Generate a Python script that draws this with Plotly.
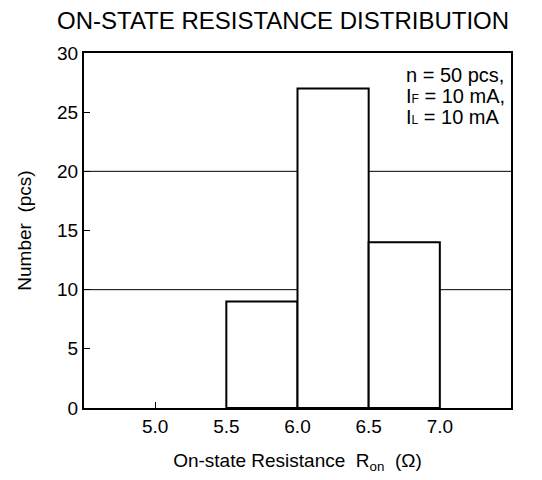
import plotly.graph_objects as go

bin_centers = [5.75, 6.25, 6.75]
counts = [9, 27, 14]
x_ticks = [5.0, 5.5, 6.0, 6.5, 7.0]
x_tick_labels = ["5.0", "5.5", "6.0", "6.5", "7.0"]
y_ticks = [0, 5, 10, 15, 20, 25, 30]
grid_levels = [10, 20]
small = '<span style="font-size:12px">{}</span>'
note_lines = ["n = 50 pcs,", "I" + small.format("F") + " = 10 mA,", "I" + small.format("L") + " = 10 mA"]

font = "Liberation Sans, Arial, sans-serif"

fig = go.Figure()
fig.add_trace(go.Bar(
    x=bin_centers, y=counts, width=0.5,
    marker=dict(color="white", line=dict(color="black", width=2)),
    showlegend=False,
))

for g in grid_levels:
    fig.add_shape(type="line", xref="paper", x0=0, x1=1, yref="y", y0=g, y1=g,
                  line=dict(color="black", width=1), layer="below")

note_y = [0.938, 0.879, 0.820]
annotations = [dict(text=t, xref="paper", yref="paper", x=0.749, y=yy,
                    xanchor="left", yanchor="middle", align="left", showarrow=False,
                    font=dict(size=20, family=font))
               for t, yy in zip(note_lines, note_y)]

fig.update_layout(
    width=534, height=472,
    margin=dict(l=76, r=31, t=45, b=72),
    paper_bgcolor="white", plot_bgcolor="white",
    font=dict(family=font, size=19, color="black"),
    title=dict(text="ON-STATE RESISTANCE DISTRIBUTION", x=0.0918, xanchor="left",
               y=0.974, yanchor="middle", font=dict(size=24, family=font)),
    xaxis=dict(range=[4.5, 7.5], tickvals=x_ticks, ticktext=x_tick_labels,
               ticks="inside", ticklen=6, tickcolor="black", tickwidth=1,
               tickfont=dict(size=19),
               showline=True, linecolor="black", linewidth=2, mirror=True,
               showgrid=False, zeroline=False, automargin=False,
               title=dict(text="On-state Resistance  R<sub>on</sub>  (Ω)", standoff=18,
                          font=dict(size=19))),
    yaxis=dict(range=[0, 30], tickvals=y_ticks,
               ticks="inside", ticklen=6, tickcolor="black", tickwidth=1,
               tickfont=dict(size=19),
               showline=True, linecolor="black", linewidth=2, mirror=True,
               showgrid=False, zeroline=False, automargin=False,
               title=dict(text="Number  (pcs)", standoff=20, font=dict(size=19))),
    annotations=annotations,
)

fig.write_html("out.html")
